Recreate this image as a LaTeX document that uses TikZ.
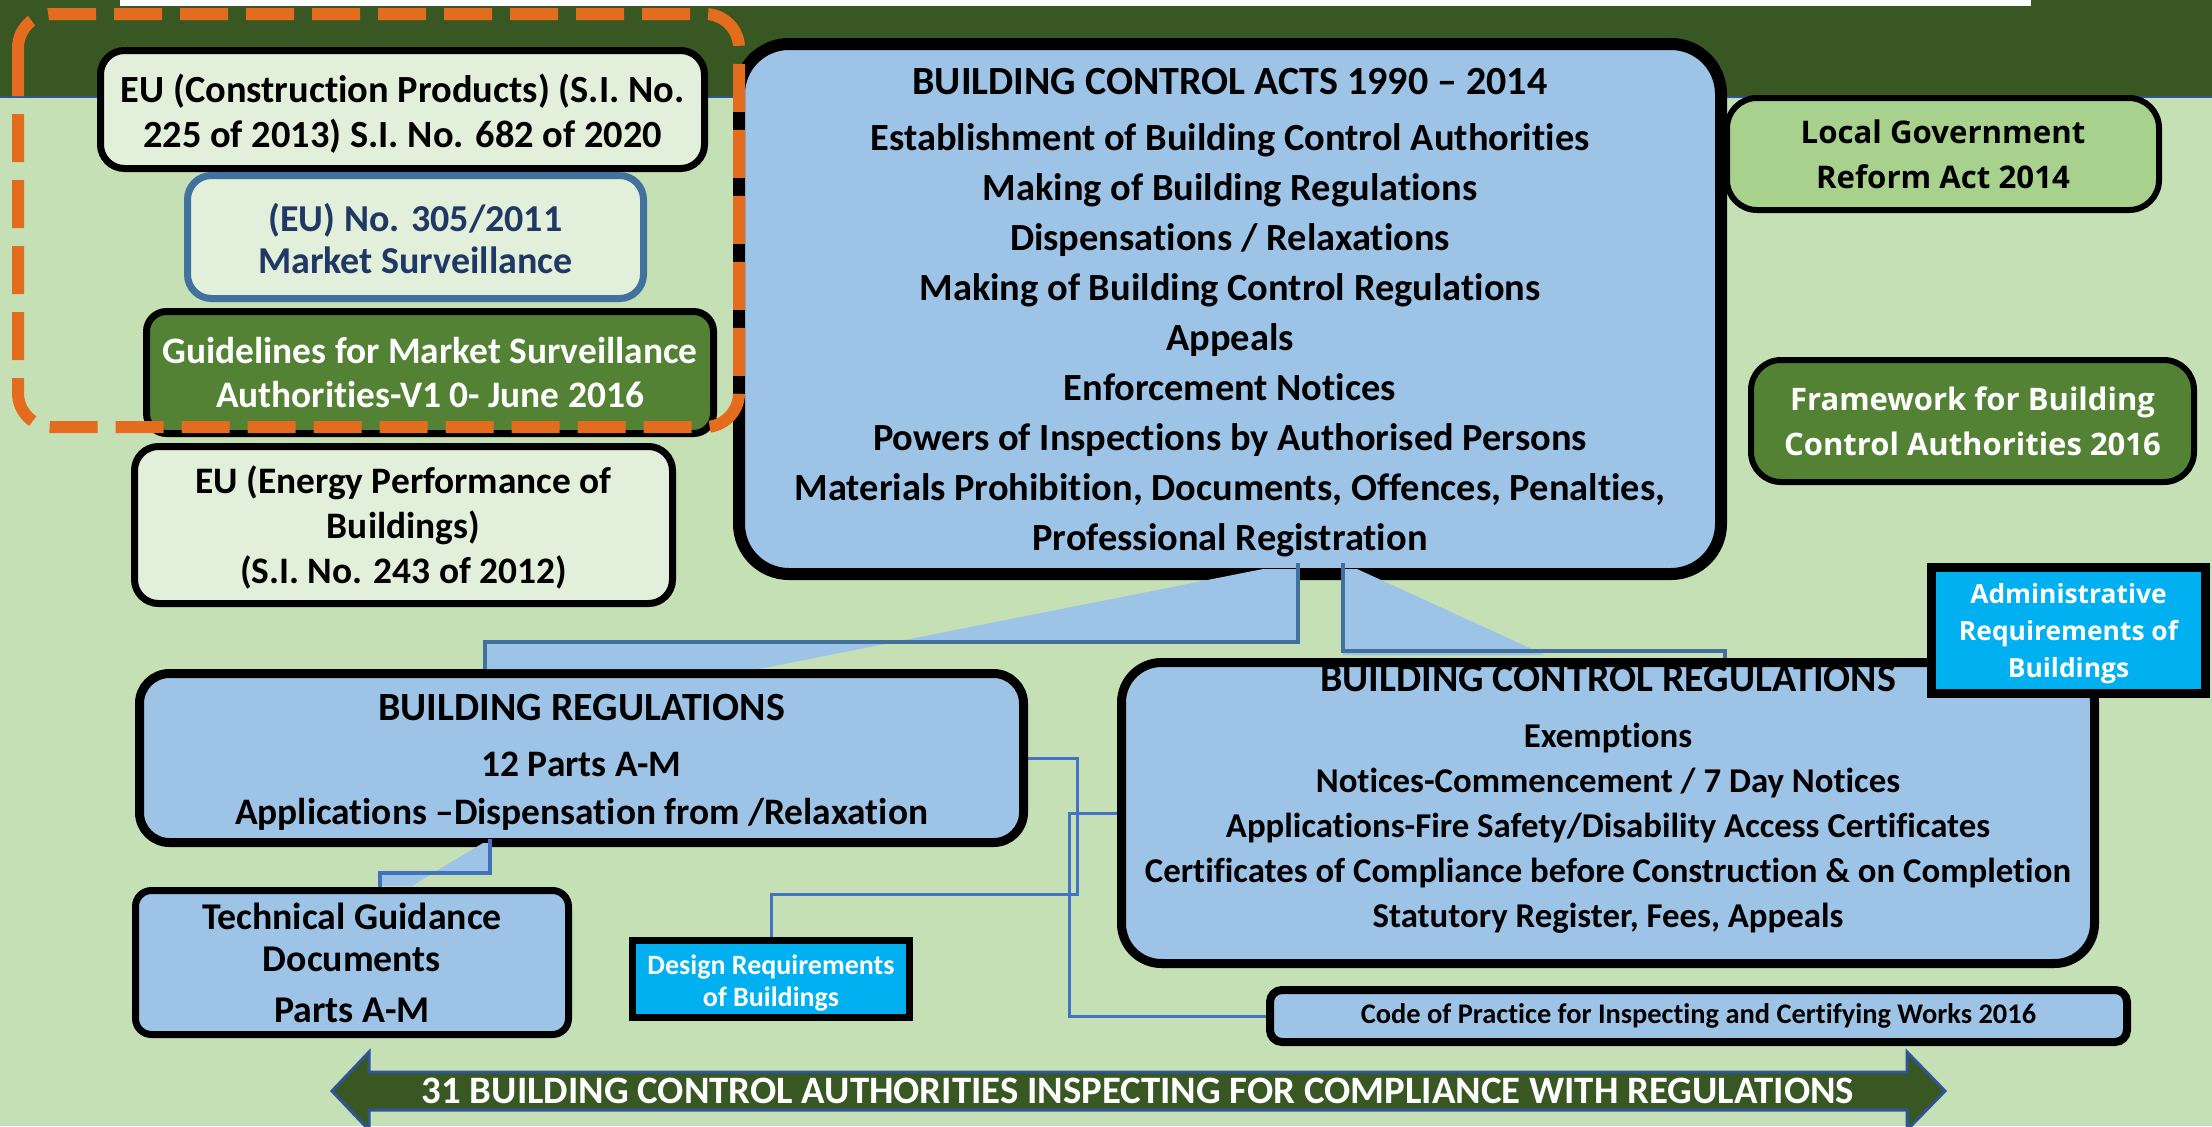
\documentclass[tikz,border=0pt]{standalone}
\usepackage{fontspec}
\setmainfont{Carlito}[Ligatures=NoCommon, RawFeature={-liga;-clig;-dlig}]
\newfontfamily\osans{Open Sans}
\usetikzlibrary{calc}
\definecolor{bgg}{HTML}{C5E0B4}
\definecolor{dkg}{HTML}{385723}
\definecolor{ltg}{HTML}{E2EFDA}
\definecolor{blu}{HTML}{9DC3E6}
\definecolor{mdg}{HTML}{548235}
\definecolor{lgg}{HTML}{A9D18E}
\definecolor{cya}{HTML}{00B0F0}
\definecolor{org}{HTML}{E46C1E}
\definecolor{stb}{HTML}{41719C}
\definecolor{navy}{HTML}{1F3864}
\definecolor{elb}{HTML}{4472C4}
\definecolor{arb}{HTML}{2F5597}
\newcommand\fsz[2]{\fontsize{#1}{#2}\selectfont}
\newcommand\tstrut[1]{\rule{0pt}{#1}}
\begin{document}
\begin{tikzpicture}[x=0.5pt,y=-0.5pt,
  box/.style={draw=black, align=center, inner sep=0pt, rectangle},
  wedge/.style={fill=blu, draw=none},
  conn/.style={draw=stb, line width=2pt},
  elbow/.style={draw=elb, line width=1.5pt}]
\useasboundingbox (0,0) rectangle (2212,1126);
\clip (0,0) rectangle (2212,1126);
% background
\fill[bgg] (0,0) rectangle (2212,1126);
\fill[dkg] (0,0) rectangle (2212,97);
\draw[arb, line width=0.6pt] (0,97) -- (2212,97);
\fill[white] (120,0) rectangle (2031,6);

% boxes
\node[box, fill=ltg, line width=3.5pt, rounded corners=12pt, minimum width=302pt, minimum height=59pt,
  font=\bfseries\fsz{19.2}{22.5}] (eu1) at (402.5,109.5)
  {\tstrut{18pt}EU (Construction Products) (S.I. No.\\225 of 2013) S.I. No. 682 of 2020};
\node[box, draw=stb, fill=ltg, line width=3.5pt, rounded corners=12pt, minimum width=228pt, minimum height=61.5pt,
  text=navy, font=\bfseries\fsz{19}{21}] (eu2) at (415.5,237)
  {\tstrut{16pt}(EU) No. 305/2011\\Market Surveillance};
\node[box, fill=mdg, line width=3.5pt, rounded corners=10pt, minimum width=283.5pt, minimum height=61pt,
  text=white, font=\bfseries\fsz{18.7}{22}] (guide) at (430,372.5)
  {Guidelines for Market Surveillance\\Authorities-V1 0- June 2016};
\node[box, fill=ltg, line width=3.5pt, rounded corners=12pt, minimum width=269pt, minimum height=78.5pt,
  font=\bfseries\fsz{18.7}{22.5}] (eu3) at (403.5,525)
  {\tstrut{16.5pt}EU (Energy Performance of\\Buildings)\\(S.I. No. 243 of 2012)};

\node[box, fill=blu, line width=6pt, rounded corners=25pt, minimum width=491pt, minimum height=265pt,
  font=\bfseries\fsz{19.2}{25}] (bca) at (1230,309)
  {{\fsz{20}{25}\tstrut{17pt}BUILDING CONTROL ACTS 1990 – 2014}\\[3pt]
   Establishment of Building Control Authorities\\
   Making of Building Regulations\\
   Dispensations / Relaxations\\
   Making of Building Control Regulations\\
   Appeals\\
   Enforcement Notices\\
   Powers of Inspections by Authorised Persons\\
   Materials Prohibition, Documents, Offences, Penalties,\\
   Professional Registration};

\node[box, fill=lgg, line width=3pt, rounded corners=15pt, minimum width=216pt, minimum height=56pt,
  font=\osans\bfseries\fsz{15.6}{22.5}] (lgra) at (1943,154)
  {Local Government\\Reform Act 2014};
\node[box, fill=mdg, line width=3pt, rounded corners=15pt, minimum width=221.5pt, minimum height=61pt,
  text=white, font=\osans\bfseries\fsz{15.5}{22.5}] (fw) at (1972.5,421)
  {Framework for Building\\Control Authorities 2016};

\node[box, fill=blu, line width=4.5pt, rounded corners=15pt, minimum width=442pt, minimum height=84.5pt,
  font=\bfseries\fsz{18.7}{24}] (br) at (581.5,758)
  {{\fsz{20}{24}\tstrut{17pt}BUILDING REGULATIONS}\\[4pt]12 Parts A-M\\Applications –Dispensation from /Relaxation};
\node[box, fill=blu, line width=3.5pt, rounded corners=8pt, minimum width=216.5pt, minimum height=72pt,
  font=\bfseries\fsz{18.9}{21}] (tgd) at (352,962.5)
  {Technical Guidance\\Documents\\[4.5pt]Parts A-M};
\node[box, fill=cya, line width=3.5pt, minimum width=138.5pt, minimum height=38.5pt,
  text=white, font=\bfseries\fsz{14}{16}] (design) at (771,979)
  {\tstrut{13.5pt}Design Requirements\\of Buildings};

\node[box, fill=blu, line width=4.5pt, rounded corners=20pt, minimum width=486.5pt, minimum height=150.5pt] (bcr) at (1608,813) {};
\node[align=center, inner sep=0pt, font=\bfseries\fsz{17.4}{22.5}] (bcrtext) at (1608,799.5)
  {{\fsz{20}{22.5}BUILDING CONTROL REGULATIONS}\\[5.5pt]
   Exemptions\\
   Notices-Commencement / 7 Day Notices\\
   Applications-Fire Safety/Disability Access Certificates\\
   Certificates of Compliance before Construction \& on Completion\\
   Statutory Register, Fees, Appeals};
\node[box, fill=blu, line width=4pt, rounded corners=6pt, minimum width=428.5pt, minimum height=26pt,
  font=\bfseries\fsz{14.2}{14}] (code) at (1698.5,1016)
  {Code of Practice for Inspecting and Certifying Works 2016};
\node[box, fill=cya, line width=4.5pt, minimum width=137pt, minimum height=63pt,
  text=white, font=\osans\bfseries\fsz{13.2}{18.5}] (admin) at (2068.5,630.5)
  {\tstrut{13pt}Administrative\\Requirements of\\Buildings};

% connectors from Building Control Acts
\fill[wedge] (1263,569) -- (1298,569) -- (1298,642) -- (895,642) -- cycle;
\fill[wedge] (485,642) -- (895,642) -- (759,669) -- (485,669) -- cycle;
\draw[conn] ($(bca.south)+(68,-17)$) |- ($(br.north)+(-96.5,-27)$) -- ($(br.north)+(-96.5,0)$);
\fill[wedge] (1343,569) -- (1357,569) -- (1545,655) -- (1343,655) -- cycle;
\draw[conn] ($(bca.south)+(113,-17)$) |- ($(bcr.north)+(117,-7)$) -- ($(bcr.north)+(117,0)$);
% Building Regulations to Technical Guidance
\fill[wedge] (483,843) -- (490,843) -- (490,873) -- (433,873) -- cycle;
\fill[wedge] (380,873) -- (433,873) -- (412,886) -- (380,886) -- cycle;
\draw[conn, draw=elb!80!stb] ($(br.south)+(-91.5,-8)$) |- ($(tgd.north)+(28,-14)$) -- ($(tgd.north)+(28,0)$);
% elbow connectors
\draw[elbow] (br.east) -- ++(49,0) |- ($(design.north)+(0,-43)$) -- (design.north);
\draw[elbow] (bcr.west) -- ++(-48,0) |- (code.west);

% orange dashed frame
\draw[org, line width=6pt, dash pattern=on 24pt off 9pt, rounded corners=17pt] (18,14) rectangle (739,427);

% bottom double arrow
\fill[dkg, draw=arb, line width=1.5pt] (332,1091) -- (369,1052) -- (369,1072) -- (1907,1072) -- (1907,1052)
  -- (1945,1091) -- (1907,1130) -- (1907,1110) -- (369,1110) -- (369,1130) -- cycle;
\node[text=white, font=\bfseries\fsz{19.4}{20}, inner sep=0pt] (arrowtext) at (1138,1091)
  {31 BUILDING CONTROL AUTHORITIES INSPECTING FOR COMPLIANCE WITH REGULATIONS};
\end{tikzpicture}
\end{document}
